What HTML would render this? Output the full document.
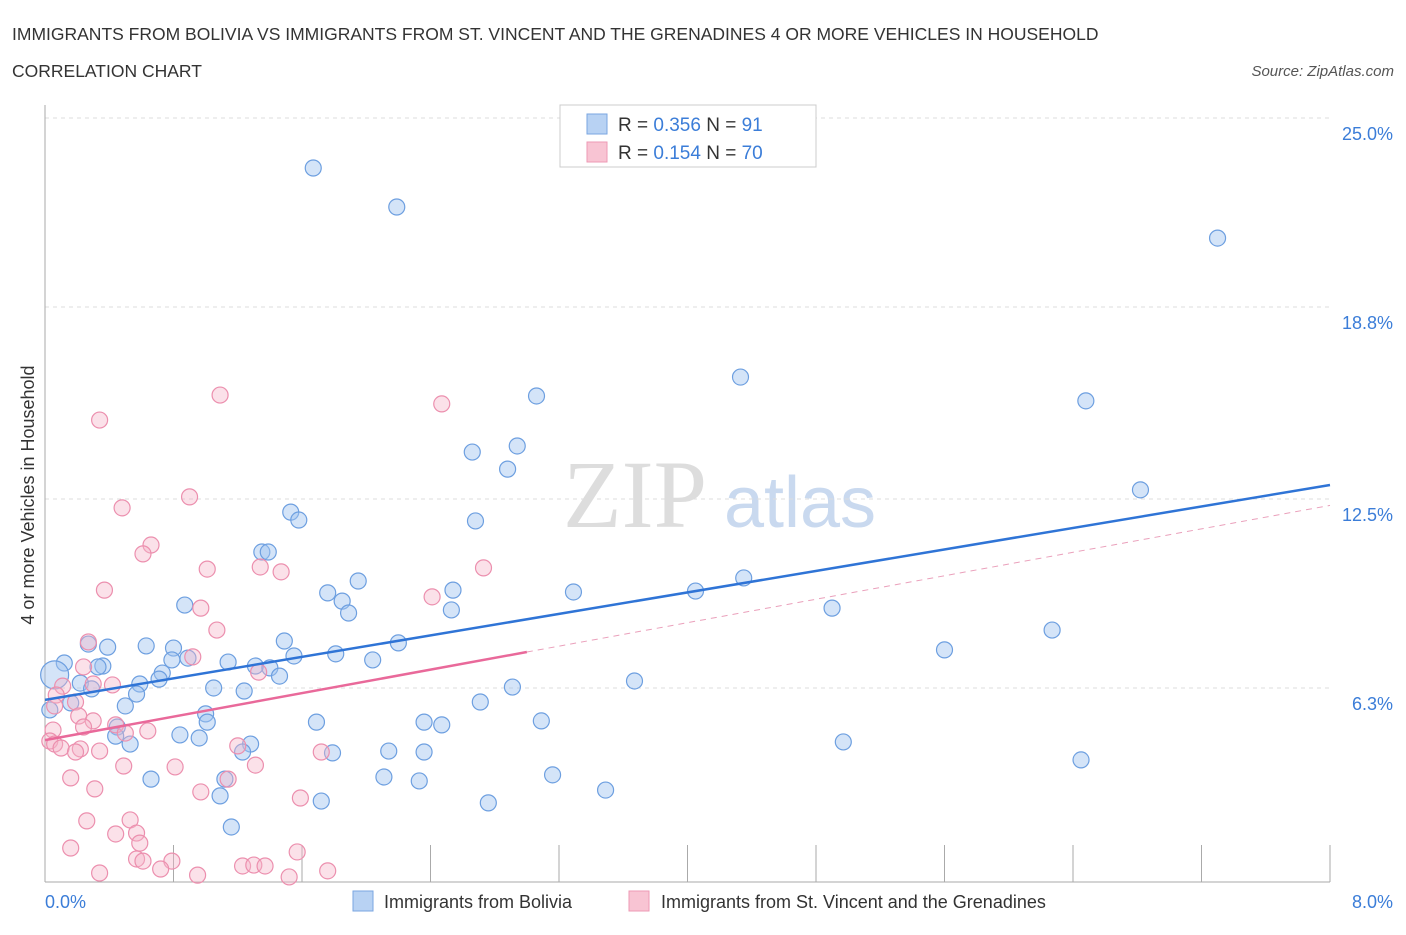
<!DOCTYPE html>
<html><head><meta charset="utf-8"><style>
body{margin:0;background:#fff;font-family:"Liberation Sans",sans-serif;}
#wrap{position:relative;width:1406px;height:930px;}
</style></head><body>
<div id="wrap">
<svg id="svg" width="1406" height="930" xmlns="http://www.w3.org/2000/svg">
<text x="12" y="40" font-size="17.5" fill="#333">IMMIGRANTS FROM BOLIVIA VS IMMIGRANTS FROM ST. VINCENT AND THE GRENADINES 4 OR MORE VEHICLES IN HOUSEHOLD</text>
<text x="12" y="77" font-size="17.5" fill="#333">CORRELATION CHART</text>
<text x="1394" y="76" font-size="15" font-style="italic" fill="#555" text-anchor="end">Source: ZipAtlas.com</text>
<text x="635" y="527" font-size="96" font-family="Liberation Serif" fill="#ddd" text-anchor="middle">ZIP</text>
<text x="800" y="527" font-size="72" fill="#c9d9ef" text-anchor="middle">atlas</text>
<g id="grid"></g><g id="pts"></g><g id="lines"></g>
<text x="34" y="495" font-size="18" fill="#333" text-anchor="middle" transform="rotate(-90 34 495)">4 or more Vehicles in Household</text>
<text x="45" y="908" font-size="18" fill="#3b7dd8">0.0%</text>
<text x="1393" y="908" font-size="18" fill="#3b7dd8" text-anchor="end">8.0%</text>
<g>
<rect x="560" y="105" width="256" height="62" fill="#fff" stroke="#ccc"/>
<rect x="587" y="114" width="20" height="20" fill="#b8d2f3" stroke="#7aa6e0"/>
<rect x="587" y="142" width="20" height="20" fill="#f8c4d3" stroke="#ee9ab4"/>
<text x="618" y="131" font-size="19" fill="#333">R = <tspan fill="#3b7dd8">0.356</tspan>   N =  <tspan fill="#3b7dd8">91</tspan></text>
<text x="618" y="159" font-size="19" fill="#333">R =  <tspan fill="#3b7dd8">0.154</tspan>   N = <tspan fill="#3b7dd8">70</tspan></text>
</g>
<g>
<rect x="353" y="891" width="20" height="20" fill="#b8d2f3" stroke="#7aa6e0"/>
<text x="384" y="908" font-size="18" fill="#333">Immigrants from Bolivia</text>
<rect x="629" y="891" width="20" height="20" fill="#f8c4d3" stroke="#ee9ab4"/>
<text x="661" y="908" font-size="18" fill="#333">Immigrants from St. Vincent and the Grenadines</text>
</g>
</svg>
</div>
<script>
const yTicks=[25,18.8,12.5,6.3];
const yTickLabels=["25.0%","18.8%","12.5%","6.3%"];
const xTicks=[0,0.8,1.6,2.4,3.2,4,4.8,5.6,6.4,7.2,8];
const blueX=[1.67,2.19,7.30,4.33,3.06,6.48,2.94,2.66,2.88,6.82,1.53,1.58,2.68,1.35,1.39,1.95,4.35,2.54,3.29,4.05,1.76,1.85,0.87,1.89,2.53,4.90,6.27,1.49,2.20,0.27,0.39,0.63,0.80,5.60,1.81,1.55,0.89,0.79,1.14,2.04,0.12,0.36,0.33,1.31,1.40,0.73,1.46,0.71,0.59,0.06,0.22,3.67,2.91,0.29,1.05,1.24,0.57,2.71,0.16,0.50,0.03,1.0,1.01,1.69,2.36,2.47,3.09,0.45,0.84,0.96,0.44,0.53,1.28,4.97,1.23,2.14,1.79,2.36,6.45,3.16,2.11,0.66,1.12,2.33,3.49,1.09,1.72,2.76,1.16];
const blueY=[23.36,22.08,21.06,16.50,15.88,15.72,14.24,14.04,13.48,12.80,12.07,11.81,11.78,10.76,10.76,9.81,9.91,9.51,9.45,9.48,9.42,9.15,9.02,8.76,8.86,8.92,8.20,7.84,7.78,7.74,7.64,7.68,7.61,7.55,7.42,7.35,7.28,7.22,7.15,7.22,7.12,7.02,6.99,7.02,6.96,6.79,6.69,6.59,6.43,6.73,6.46,6.53,6.33,6.27,6.30,6.20,6.10,5.84,5.81,5.71,5.58,5.45,5.18,5.18,5.18,5.09,5.22,5.02,4.76,4.66,4.72,4.46,4.46,4.53,4.20,4.23,4.17,4.20,3.94,3.45,3.38,3.31,3.31,3.25,2.95,2.76,2.59,2.53,1.74];
const pinkX=[1.09,2.47,0.34,0.90,0.48,0.66,0.61,2.73,1.34,1.01,1.47,0.37,2.41,0.97,1.07,0.27,0.92,0.24,1.33,0.11,0.42,0.30,0.07,0.19,0.06,0.21,0.30,0.24,0.44,0.64,0.05,0.50,0.03,0.06,0.10,0.22,0.34,0.19,1.20,1.72,0.49,0.81,1.31,0.16,1.14,0.31,0.97,1.59,0.26,0.53,0.57,0.44,0.59,0.16,1.57,0.57,0.61,0.79,0.72,1.23,1.30,1.37,1.76,0.34,0.95,1.52];
const pinkY=[15.91,15.62,15.09,12.57,12.21,10.99,10.70,10.24,10.27,10.20,10.11,9.51,9.29,8.92,8.20,7.81,7.32,6.99,6.82,6.36,6.40,6.43,6.07,5.84,5.71,5.38,5.22,5.02,5.09,4.89,4.92,4.82,4.56,4.46,4.33,4.30,4.23,4.20,4.40,4.20,3.74,3.71,3.77,3.35,3.31,2.99,2.89,2.69,1.94,1.97,1.54,1.51,1.21,1.05,0.92,0.69,0.62,0.62,0.36,0.46,0.49,0.46,0.30,0.23,0.16,0.10];
const blueTrend=[[0,5.91],[8,12.96]];
const pinkTrend=[[0,4.59],[3.0,7.48]];
const pinkDash=[[3.0,7.48],[8,12.29]];
const X=v=>45+v/8*1285, Y=v=>880-v/25*762;
const NS="http://www.w3.org/2000/svg";
function mk(tag,attrs,parent){const e=document.createElementNS(NS,tag);for(const k in attrs)e.setAttribute(k,attrs[k]);document.getElementById(parent).appendChild(e);return e;}
yTicks.forEach((t,i)=>{
 const l=mk('line',{x1:45,x2:1330,y1:Y(t),y2:Y(t),stroke:'#ddd','stroke-dasharray':'4,4'},'grid');
 
 
 const tx=mk('text',{x:1393,y:Y(t)+22,'font-size':18,fill:'#3b7dd8','text-anchor':'end'},'grid');
 tx.textContent=yTickLabels[i];
 
 
});
const ax=mk('line',{x1:45,x2:45,y1:105,y2:882,stroke:'#aaa'},'grid');


const bx=mk('line',{x1:45,x2:1330,y1:882,y2:882,stroke:'#aaa'},'grid');


xTicks.forEach(t=>{
 const l=mk('line',{x1:X(t),x2:X(t),y1:845,y2:882,stroke:'#aaa'},'grid');
 
 
});
blueX.forEach((x,i)=>{
 const c=mk('circle',{cx:X(x),cy:Y(blueY[i]),r:i==49?14:8,fill:'rgba(160,196,240,0.45)',stroke:'#6d9fe0','stroke-width':1.2},'pts');
 
 
});
pinkX.forEach((x,i)=>{
 const c=mk('circle',{cx:X(x),cy:Y(pinkY[i]),r:8,fill:'rgba(246,180,200,0.4)',stroke:'#ec8fae','stroke-width':1.2},'pts');
 
 
});
const t1=mk('line',{x1:X(blueTrend[0][0]),y1:Y(blueTrend[0][1]),x2:X(blueTrend[1][0]),y2:Y(blueTrend[1][1]),stroke:'#2f74d6','stroke-width':2.5},'lines');


const t2=mk('line',{x1:X(pinkTrend[0][0]),y1:Y(pinkTrend[0][1]),x2:X(pinkTrend[1][0]),y2:Y(pinkTrend[1][1]),stroke:'#e9699a','stroke-width':2.5},'lines');


const t3=mk('line',{x1:X(pinkDash[0][0]),y1:Y(pinkDash[0][1]),x2:X(pinkDash[1][0]),y2:Y(pinkDash[1][1]),stroke:'#eaa0bb','stroke-width':1,'stroke-dasharray':'6,5'},'lines');


</script>
</body></html>
